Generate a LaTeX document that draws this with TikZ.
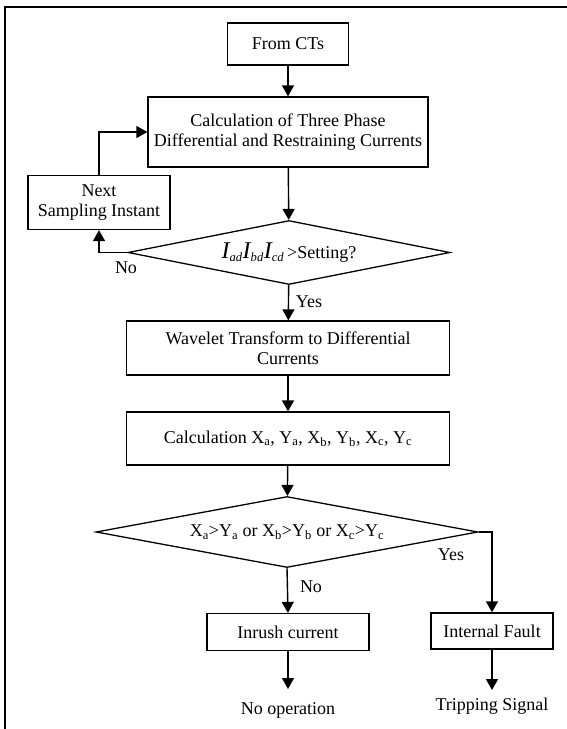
\documentclass[tikz,border=0pt]{standalone}
\usepackage{fontspec}
\setmainfont{Liberation Serif}
\usetikzlibrary{arrows.meta,shapes.geometric}

\begin{document}
\begin{tikzpicture}[x=1pt,y=-1pt,
    box/.style={draw,line width=1.3pt,inner sep=0pt,align=center,font=\fontsize{18}{20}\selectfont},
    decision/.style={draw,diamond,line width=1.3pt,inner sep=0pt,font=\fontsize{18}{20}\selectfont},
    lbl/.style={inner sep=0pt,font=\fontsize{18}{20}\selectfont},
    flow/.style={line width=1.4pt,-{Triangle[length=11pt,width=12pt]}}]
  \useasboundingbox (0,0) rectangle (567,729);
  % frame
  \draw[line width=2pt] (5,729) -- (5,7) -- (567,7);

  \node[box,minimum width=121pt,minimum height=42pt] (cts) at (288,44) {From CTs};
  \node[box,minimum width=280pt,minimum height=70pt] (calc) at (288,132)
    {Calculation of Three Phase\\Differential and Restraining Currents};
  \node[box,minimum width=142pt,minimum height=54pt] (next) at (99,202.5)
    {Next\\Sampling Instant};
  \node[decision,aspect=5.03,minimum width=322pt,minimum height=64pt] (dec1) at (289,252.5)
    {{\fontsize{24}{24}\selectfont\itshape I}\textsubscript{\itshape ad}%
     {\fontsize{24}{24}\selectfont\itshape I}\textsubscript{\itshape bd}%
     {\fontsize{24}{24}\selectfont\itshape I}\textsubscript{\itshape cd}\,>Setting?};
  \node[box,minimum width=323pt,minimum height=54pt] (wave) at (288,348)
    {Wavelet Transform to Differential\\Currents};
  \node[box,minimum width=323pt,minimum height=53pt] (calcxy) at (288,438.5)
    {Calculation X\textsubscript{a}, Y\textsubscript{a}, X\textsubscript{b}, Y\textsubscript{b}, X\textsubscript{c}, Y\textsubscript{c}};
  \node[decision,aspect=5.38,minimum width=382pt,minimum height=71pt] (dec2) at (287,532)
    {X\textsubscript{a}>Y\textsubscript{a} or X\textsubscript{b}>Y\textsubscript{b} or X\textsubscript{c}>Y\textsubscript{c}};
  \node[box,minimum width=162pt,minimum height=37pt] (inrush) at (288,632) {Inrush current};
  \node[box,minimum width=122pt,minimum height=36pt] (fault) at (492,631) {Internal Fault};
  \node[lbl,anchor=north,inner ysep=13pt] (noop) at (288,689) {No operation};
  \node[lbl,anchor=north,inner ysep=8pt] (trip) at (492,690) {Tripping Signal};

  % branch labels
  \node[lbl] (no1) at (126,268) {No};
  \node[lbl] (yes1) at (309,302) {Yes};
  \node[lbl] (yes2) at (451,555) {Yes};
  \node[lbl] (no2) at (311,587) {No};

  \draw[flow] (cts) -- (calc);
  \draw[flow] (calc) -- (dec1);
  \draw[flow] (dec1.west) -| (next.south);
  \draw[flow] (next.north) |- (calc.west);
  \draw[flow] (dec1) -- (wave);
  \draw[flow] (wave) -- (calcxy);
  \draw[flow] (calcxy) -- (dec2);
  \draw[flow] (dec2.east) -| (fault.north);
  \draw[flow] (dec2.south) -- (inrush.north);
  \draw[flow] (inrush) -- (noop);
  \draw[flow] (fault) -- (trip);
\end{tikzpicture}
\end{document}
